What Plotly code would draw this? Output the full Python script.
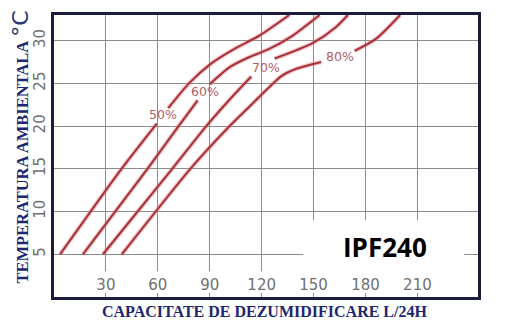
import plotly.graph_objects as go

# ---- data ----
c50_x = [3.5, 39.0, 59.4, None, 66.0, 78.0, 90.0, 104.0, 118.8, 136.0]
c50_y = [5, 15, 20.3, None, 22.1, 25.0, 27.2, 29.0, 30.6, 33.0]

c60_x = [16.7, 54.0, 72.0, 83.0, None, 90.0, 101.5, 112.0, 124.0, 138.0, 153.5]
c60_y = [5, 15, 20.0, 23.0, None, 24.9, 26.9, 28.0, 29.0, 30.6, 33.0]

c70_x = [28.3, 68.3, 88.0, 101.0, 114.0, None, 127.5, 149.4, 163.0, 169.8]
c70_y = [5, 15, 20.0, 23.0, 25.8, None, 27.9, 29.7, 31.6, 33.0]

c80_x = [39.2, 78.8, 101.5, 113.0, 124.6, 131.0, 140.0, 154.4, None, 173.7, 186.0, 200.0]
c80_y = [5, 15, 20.0, 22.3, 24.6, 25.8, 26.7, 27.5, None, 28.8, 30.2, 33.0]

curve_labels = ["50%", "60%", "70%", "80%"]
label_x = [62.9, 87.1, 122.3, 165.0]
label_y = [21.3, 24.1, 26.9, 28.1]

x_ticks = [30, 60, 90, 120, 150, 180, 210]
y_ticks = [5, 10, 15, 20, 25, 30]

model_name = "IPF240"
x_title = "CAPACITATE DE DEZUMIDIFICARE L/24H"
y_title = "TEMPERATURA AMBIENTALA"

# ---- figure ----
fig = go.Figure()
for xs, ys in [(c50_x, c50_y), (c60_x, c60_y), (c70_x, c70_y), (c80_x, c80_y)]:
    fig.add_trace(go.Scatter(x=xs, y=ys, mode="lines", connectgaps=False,
                             line=dict(color="rgba(226,120,125,0.40)", width=4.5,
                                       shape="spline", smoothing=0.7),
                             hoverinfo="skip", showlegend=False))
    fig.add_trace(go.Scatter(x=xs, y=ys, mode="lines", connectgaps=False,
                             line=dict(color="#a8323a", width=2.1,
                                       shape="spline", smoothing=0.7),
                             showlegend=False))

for t, lx, ly in zip(curve_labels, label_x, label_y):
    fig.add_annotation(x=lx, y=ly, text=t, showarrow=False,
                       font=dict(family="DejaVu Sans", size=12.5, color="#b0606a"))

# white strip behind bottom tick labels and white box for model name
fig.add_shape(type="rect", xref="x", yref="y", x0=0, x1=245, y0=0, y1=3.0,
              fillcolor="white", line=dict(width=0), layer="between")
fig.add_shape(type="rect", xref="x", yref="y", x0=144, x1=237, y0=0, y1=9.0,
              fillcolor="white", line=dict(width=0), layer="between")

fig.add_annotation(x=191, y=5.8, text="<b>%s</b>" % model_name, showarrow=False,
                   font=dict(family="Open Sans", size=26, color="#000000"))

title_color = "#1d2670"
fig.add_annotation(xref="paper", yref="paper", x=0.496, y=-0.053,
                   xanchor="center", yanchor="middle", showarrow=False,
                   text="<b>%s</b>" % x_title,
                   font=dict(family="Liberation Serif", size=16, color=title_color))
fig.add_annotation(xref="paper", yref="paper", x=-0.080, y=0.53,
                   xanchor="center", yanchor="middle", showarrow=False, textangle=-90,
                   text="<b>%s</b> <span style='font-family:DejaVu Sans;font-size:22px;color:#2b3474'>°C</span>" % y_title,
                   font=dict(family="Liberation Serif", size=16.5, color=title_color))

fig.update_layout(
    width=513, height=330,
    margin=dict(l=54, r=35, t=13, b=33),
    paper_bgcolor="white", plot_bgcolor="white",
    xaxis=dict(range=[0, 245], tickvals=x_ticks, showgrid=True, gridcolor="#8c8c8c",
               gridwidth=1, zeroline=False, showline=True, linecolor="#1b1b3a",
               linewidth=3, mirror=True, ticks="inside", ticklen=4, tickcolor="#8c8c8c",
               ticklabelposition="inside",
               tickfont=dict(family="DejaVu Sans", size=15, color="#707070")),
    yaxis=dict(range=[0, 33], tickvals=y_ticks, showgrid=True, gridcolor="#8c8c8c",
               gridwidth=1, zeroline=False, showline=True, linecolor="#1b1b3a",
               linewidth=3, mirror=True, ticks="", tickangle=-90,
               tickfont=dict(family="DejaVu Sans", size=15, color="#707070")),
)

fig.write_html("out.html")
